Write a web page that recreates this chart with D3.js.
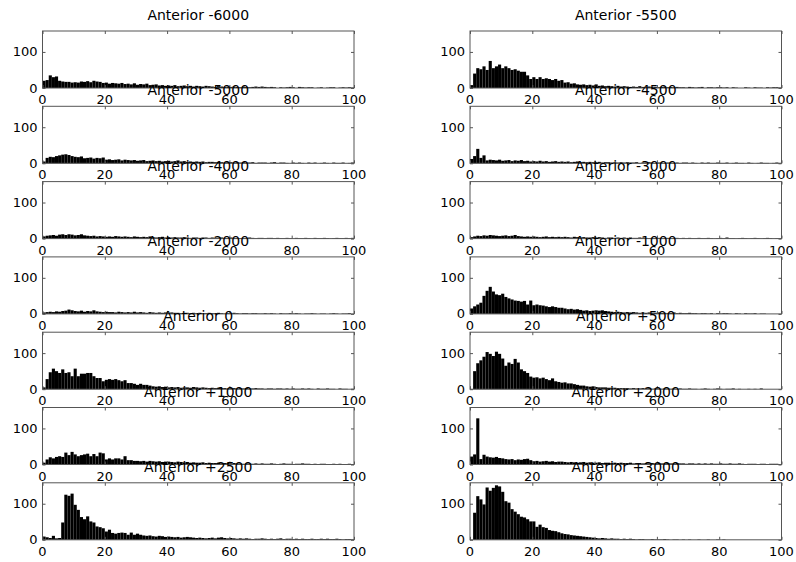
<!DOCTYPE html>
<html>
<head>
<meta charset="utf-8">
<script src="https://cdnjs.cloudflare.com/ajax/libs/d3/7.8.5/d3.min.js"></script>
<style>
  body { margin: 0; background: #fff; }
  svg text { font-family: "DejaVu Sans", Arial, sans-serif; fill: #000; }
</style>
</head>
<body>
<svg id="chart" width="796" height="562"></svg>
<script>
// histogram counts, one bin per unit from 0 to 100
const titlesLeft = ["Anterior -6000", "Anterior -5000", "Anterior -4000", "Anterior -2000", "Anterior 0", "Anterior +1000", "Anterior +2500"];
const titlesRight = ["Anterior -5500", "Anterior -4500", "Anterior -3000", "Anterior -1000", "Anterior +500", "Anterior +2000", "Anterior +3000"];
const xTicks = [0, 20, 40, 60, 80, 100];
const yTicks = [0, 100];

const antM6000 = [20,22,35,30,32,20,18,17,17,15, 16,15,18,17,19,16,20,18,17,14, 15,12,14,13,12,14,11,12,10,13, 9,11,10,12,8,9,10,7,8,6, 7,6,8,5,6,7,5,6,4,6, 5,4,6,5,4,3,5,4,3,4, 3,4,3,2,4,3,2,3,4,3, 4,3,2,3,2,0,2,1,2,3, 2,0,3,2,1,2,2,0,1,2, 0,1,2,2,0,1,2,1,2,1];
const antM5500 = [8,40,55,52,60,50,75,55,60,65, 55,60,55,50,52,48,45,45,35,25, 30,25,30,25,27,25,22,25,20,22, 15,16,12,13,10,9,10,8,9,7, 10,6,7,5,6,5,4,6,4,5, 4,3,4,3,5,3,2,4,3,3, 2,3,4,2,3,2,3,2,2,1, 3,2,1,2,3,0,2,2,1,2, 2,1,2,0,2,1,0,0,2,1, 0,2,1,1,0,2,1,2,2,1];
const antM5000 = [5,15,18,17,20,22,24,25,23,20, 18,17,19,14,15,16,13,15,14,16, 10,11,9,10,11,8,10,9,8,9, 7,8,9,6,7,8,6,7,5,6, 7,5,6,8,5,6,4,5,4,5, 4,5,3,4,4,3,4,3,2,3, 3,2,3,2,3,2,2,3,1,2, 2,2,1,2,3,1,2,2,1,0, 2,1,2,1,0,2,1,2,0,1, 2,1,0,2,1,1,2,0,1,2];
const antM4500 = [12,20,40,15,22,8,10,9,8,10, 7,8,9,6,8,7,9,6,7,5, 6,5,7,5,6,4,5,6,4,5, 4,5,3,4,5,3,4,3,4,3, 3,4,2,3,3,2,3,2,3,2, 3,2,2,3,1,2,2,3,2,1, 2,2,1,2,2,1,2,1,2,2, 1,2,1,0,2,1,2,1,1,2, 1,1,2,0,1,2,1,1,0,2, 1,0,1,2,1,1,0,1,2,1];
const antM4000 = [6,8,9,10,8,11,12,10,12,11, 9,10,12,9,8,7,8,6,7,6, 5,6,5,7,6,5,6,5,4,6, 5,4,5,4,6,4,3,4,5,3, 4,3,4,3,3,4,3,2,3,3, 2,3,3,2,3,2,2,3,2,2, 3,2,2,1,2,2,3,2,1,2, 2,1,2,2,1,2,1,1,2,1, 0,2,1,1,2,1,0,2,1,1, 2,1,0,1,2,1,1,2,1,2];
const antM3000 = [4,6,8,7,9,8,10,9,8,7, 8,9,7,8,10,7,6,5,6,5, 6,5,4,5,6,4,5,4,5,4, 5,4,3,5,4,3,4,3,3,4, 3,4,3,2,3,3,2,3,2,3, 2,3,2,2,3,2,2,1,2,2, 2,1,2,2,1,2,2,1,2,1, 2,1,1,2,1,1,2,1,0,1, 2,1,3,1,1,0,1,2,1,0, 1,2,1,0,1,2,1,0,1,1];
const antM2000 = [4,5,6,5,7,6,8,9,12,10, 8,7,9,6,8,7,10,7,6,5, 6,5,5,4,6,5,4,5,4,6, 4,5,4,3,5,4,3,4,3,4, 3,4,3,3,2,3,3,2,3,2, 3,2,2,3,2,2,3,2,1,2, 2,3,2,1,2,2,1,2,2,1, 1,2,1,2,1,0,2,1,1,2, 1,2,1,0,1,1,2,1,0,1, 1,0,1,2,1,0,1,1,2,0];
const antM1000 = [15,21,26,31,50,64,75,62,54,52, 56,47,43,40,37,36,34,36,26,37, 24,26,24,23,21,19,21,19,17,17, 15,13,14,12,13,11,9,10,8,9, 10,9,10,8,7,6,5,6,5,4, 5,4,5,4,3,4,3,4,3,3, 4,3,3,2,3,4,2,3,2,2, 3,2,2,1,2,2,1,2,0,2, 1,2,2,1,0,2,1,0,2,1, 1,2,0,1,1,0,0,0,0,0];
const ant0 = [5,28,47,57,50,45,55,45,47,36, 57,36,43,43,45,45,36,31,31,22, 26,28,26,28,25,22,25,17,17,15, 12,15,12,12,10,8,7,8,6,7, 5,6,5,6,4,5,5,4,6,5, 4,5,4,3,4,3,4,3,3,2, 3,3,2,3,2,3,2,2,3,2, 2,1,2,2,1,2,2,1,2,1, 2,1,1,2,1,2,1,0,2,1, 1,2,1,1,0,2,1,1,0,1];
const antP500 = [0,50,72,80,90,103,98,92,104,98, 85,65,74,70,84,74,55,50,45,35, 32,33,30,32,28,25,30,22,20,18, 19,16,16,14,12,10,10,8,7,8, 6,5,5,5,4,4,4,3,3,3, 3,2,3,2,2,3,2,2,1,2, 2,1,2,2,1,2,1,2,1,1, 2,1,1,0,1,2,1,0,1,2, 1,0,1,1,2,0,1,0,0,1, 0,1,0,2,0,0,0,0,0,0];
const antP1000 = [5,14,20,17,21,23,21,33,26,35, 28,23,26,28,30,23,29,23,33,31, 14,17,14,17,17,14,23,12,12,10, 10,9,10,8,10,9,8,9,7,8, 8,7,6,8,7,6,7,5,6,5, 5,6,4,5,4,4,5,3,4,4, 3,4,3,3,2,3,3,2,3,2, 3,2,2,3,2,1,2,3,2,2, 1,2,2,3,2,2,1,2,0,2, 2,1,0,2,1,2,0,1,2,1];
const antP2000 = [22,28,128,15,27,22,20,19,21,18, 17,15,14,15,12,14,13,15,16,12, 9,10,8,9,10,8,9,7,8,8, 7,6,7,6,5,6,7,5,6,5, 5,6,4,5,5,4,5,4,5,4, 4,5,3,4,4,3,4,3,4,3, 4,3,3,4,3,3,4,3,3,2, 3,3,2,3,2,3,2,3,2,2, 3,2,2,3,2,2,3,2,1,2, 2,2,1,2,2,1,2,2,2,1];
const antP2500 = [9,7,5,11,4,5,48,125,122,128, 97,83,63,57,65,51,48,37,35,32, 23,28,19,17,19,20,19,14,20,14, 17,14,12,11,12,10,9,11,10,8, 9,8,7,8,6,7,8,7,6,5, 6,5,4,5,6,4,6,7,5,4, 5,4,3,4,3,4,3,2,3,3, 4,3,2,3,2,3,4,2,3,3, 2,3,2,3,2,2,3,2,2,3, 2,3,2,2,3,2,1,2,2,1];
const antP3000 = [0,75,121,112,98,145,136,144,151,148, 133,107,103,85,78,71,64,62,57,51, 51,36,42,35,33,27,25,24,21,18, 16,15,13,12,11,10,9,8,7,6, 5,4,5,4,3,4,3,3,2,3, 2,3,2,1,2,2,1,1,2,1, 1,1,2,1,0,1,1,0,1,0, 1,0,0,1,0,0,1,0,0,1, 0,1,0,0,0,0,0,0,0,0, 0,0,0,0,0,0,0,0,0,0];

const seriesLeft = [antM6000, antM5000, antM4000, antM2000, ant0, antP1000, antP2500];
const seriesRight = [antM5500, antM4500, antM3000, antM1000, antP500, antP2000, antP3000];

const svg = d3.select("#chart");
const colX = [42.5, 470];
const panelW = 311.5, panelH = 57;
const rowTop = i => 31 + i * 75.3;

const x = d3.scaleLinear().domain([0, 100]).range([0, panelW]);
const y = d3.scaleLinear().domain([0, 158]).range([panelH, 0]);

const panels = [];
for (let r = 0; r < 7; r++) {
    panels.push({ col: 0, row: r, title: titlesLeft[r], data: seriesLeft[r] });
    panels.push({ col: 1, row: r, title: titlesRight[r], data: seriesRight[r] });
}

// bars and frames first
panels.forEach(p => {
    const g = svg.append("g")
        .attr("transform", "translate(" + colX[p.col] + "," + rowTop(p.row) + ")");

    g.selectAll("rect.bar")
        .data(p.data)
        .enter()
        .append("rect")
        .attr("class", "bar")
        .attr("x", (d, i) => x(i))
        .attr("width", x(1) - x(0))
        .attr("y", d => y(d))
        .attr("height", d => panelH - y(d))
        .attr("fill", "#000");

    g.append("rect")
        .attr("x", 0).attr("y", 0)
        .attr("width", panelW).attr("height", panelH)
        .attr("fill", "none")
        .attr("stroke", "#555")
        .attr("stroke-width", 1);

    // inward ticks, matlab style
    const bottom = d3.axisBottom(x).tickValues(xTicks).tickSizeInner(-3).tickSizeOuter(0).tickFormat("");
    const top = d3.axisTop(x).tickValues(xTicks).tickSizeInner(-3).tickSizeOuter(0).tickFormat("");
    const left = d3.axisLeft(y).tickValues(yTicks).tickSizeInner(-3).tickSizeOuter(0).tickFormat("");
    const right = d3.axisRight(y).tickValues(yTicks).tickSizeInner(-3).tickSizeOuter(0).tickFormat("");
    g.append("g").attr("transform", "translate(0," + panelH + ")").call(bottom);
    g.append("g").call(top);
    g.append("g").call(left);
    g.append("g").attr("transform", "translate(" + panelW + ",0)").call(right);
    g.selectAll(".domain").remove();
    g.selectAll(".tick line").attr("stroke", "#555");
});

// labels on top, so titles overlap the tick labels above them (as in the original)
panels.forEach(p => {
    const g = svg.append("g")
        .attr("transform", "translate(" + colX[p.col] + "," + rowTop(p.row) + ")");

    g.selectAll("text.xl")
        .data(xTicks)
        .enter()
        .append("text")
        .attr("x", d => x(d))
        .attr("y", panelH + 16)
        .attr("text-anchor", "middle")
        .style("font-size", "13px")
        .text(d => d);

    g.selectAll("text.yl")
        .data(yTicks)
        .enter()
        .append("text")
        .attr("x", -5)
        .attr("y", d => y(d) + 4.5)
        .attr("text-anchor", "end")
        .style("font-size", "13px")
        .text(d => d);

    g.append("text")
        .attr("x", panelW / 2)
        .attr("y", -11)
        .attr("text-anchor", "middle")
        .style("font-size", "14px")
        .text(p.title);
});
</script>
</body>
</html>
